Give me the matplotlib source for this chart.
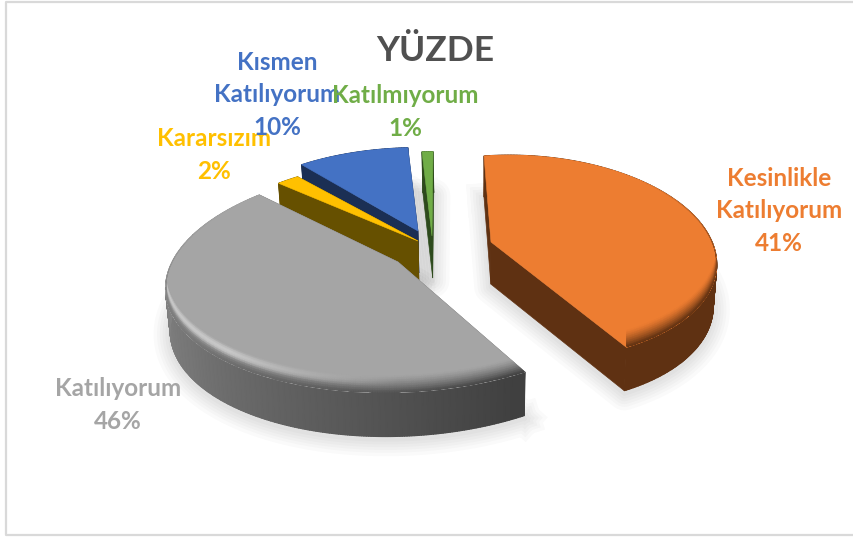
import numpy as np
import matplotlib
matplotlib.use("Agg")
import matplotlib.pyplot as plt
from matplotlib.colors import to_rgb

title = "YÜZDE"
categories = ["Kesinlikle\nKatılıyorum", "Katılıyorum", "Kararsızım", "Kısmen\nKatılıyorum", "Katılmıyorum"]
values = [41, 46, 2, 10, 1]

colors = ["#ED7D31", "#A5A5A5", "#FFC000", "#4472C4", "#70AD47"]
wall_colors = ["#5F3112", "#6A6A6A", "#665000", "#1B2F54", "#2D4A1C"]

# per slice projection: apex x, apex y, a, b, e, c, d
geometry = [
    (491, 242, 188, 8, 99, -0.15, -0.15),
    (398, 262, 235, -21, 111, -0.04, -0.15),
    (418, 241, 212, -1.2, 93, 0.0, -0.15),
    (418, 231, 205, -1.2, 96, 0.0, -0.15),
    (432, 236, 202, -1.2, 97, 0.0, -0.15),
]
label_pos = [(779, 211), (118, 405), (214, 155), (277, 95), (405, 112)]
draw_order = [4, 3, 2, 0, 1]

plt.rcParams["font.family"] = ["Lato", "DejaVu Sans"]
fig = plt.figure(figsize=(8.54, 5.37), dpi=100)
ax = fig.add_axes([0, 0, 1, 1])
ax.set_xlim(0, 854)
ax.set_ylim(537, 0)
ax.axis("off")


def project(theta, geo):
    cx, cy, a, b, e, c, d = geo
    u = np.sin(theta)
    v = -np.cos(theta)
    den = 1 + c * u + d * v
    return cx + (a * u + b * v) / den, cy + e * v / den


def drop(x, y):
    # bottom face of the slice, the vertical edges lean in a little
    return 480 + (x - 480) * 0.985, y + 41 + 0.012 * (y - 150)


def wall_rgb(i, deg):
    if i != 1:
        return np.tile(to_rgb(wall_colors[i]), (len(deg), 1))
    # grey slice goes dark towards its right end
    g = np.interp(deg, [150, 180, 230, 300], [0.25, 0.33, 0.46, 0.58])
    return np.c_[g, g, g]


def draw_slice(i, start, end):
    geo = geometry[i]
    theta = np.radians(np.linspace(start, end, max(int(end - start) * 2, 6)))
    deg = np.degrees(theta)
    x, y = project(theta, geo)
    cx, cy = geo[0], geo[1]
    ax0, ay0 = drop(cx, cy)
    bx, by = drop(x, y)
    z = 2 + draw_order.index(i)

    # soft shadow
    sx = np.r_[bx, ax0, bx[0]]
    sy = np.r_[by, ay0, by[0]] + 3
    for lw in [24, 19, 15, 11, 7, 3]:
        ax.plot(sx, sy, color="black", alpha=0.018, lw=lw, solid_joinstyle="round", zorder=1)

    # cut faces
    for k in [0, -1]:
        ax.fill([cx, x[k], bx[k], ax0], [cy, y[k], by[k], ay0], color=wall_colors[i], lw=0.5, zorder=z)

    # outer wall
    wall = wall_rgb(i, deg)
    ax.pcolormesh(np.array([x, bx]), np.array([y, by]), np.array([wall, wall]),
                  shading="gouraud", zorder=z)

    # top
    top = ax.fill(np.r_[cx, x], np.r_[cy, y], color=colors[i], lw=0.4, zorder=z)[0]

    # bevel along the front rim, t goes from the flat top to the edge
    t = np.linspace(0, 1, 9)
    weight = np.clip(-np.cos(theta) + 0.6, 0, 1)
    base = np.array(to_rgb(colors[i]))
    mesh_x = np.array([x for _ in t])
    mesh_y = np.array([y - 17 * (1 - tt) for tt in t])
    rgb = np.zeros((len(t), len(theta), 3))
    for n, tt in enumerate(t):
        col = base + (wall - base) * (weight * tt ** 1.3)[:, None]
        if i == 1:
            hl = np.clip((deg - 175) / 40, 0, 1) * weight
            bump = np.sin(np.pi * min(tt * 1.5, 1))
            col = col + (0.84 - col) * (hl * bump * 0.8)[:, None]
        rgb[n] = col
    mesh = ax.pcolormesh(mesh_x, mesh_y, rgb, shading="gouraud", zorder=z)
    mesh.set_clip_path(top)


# frame of the chart area
ax.plot([860, 6, 6, 860], [2, 2, 535, 535], color="#D9D9D9", lw=1.6, zorder=0)

ax.text(435, 51, title, ha="center", va="center", fontsize=25.5, fontweight="bold", color="#505050", zorder=20)

total = sum(values)
edges = np.r_[0, np.cumsum(values)] / total * 360
for i in draw_order:
    draw_slice(i, edges[i], edges[i + 1])

for i, cat in enumerate(categories):
    lx, ly = label_pos[i]
    ax.text(lx, ly, f"{cat}\n{values[i] / total:.0%}", ha="center", va="center", color=colors[i],
            fontsize=17.5, fontweight="bold", linespacing=1.5, zorder=21)

fig.savefig("out.png", dpi=100)
